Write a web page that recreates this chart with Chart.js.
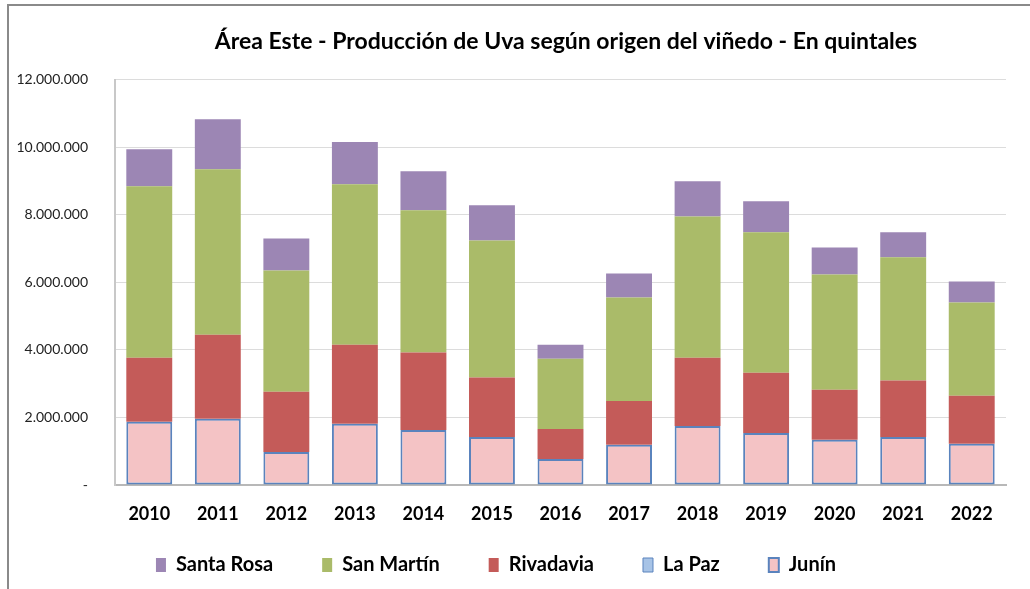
<!DOCTYPE html>
<html>
<head>
<meta charset="utf-8">
<script src="https://cdn.jsdelivr.net/npm/chart.js@4"></script>
<style>
  html, body { margin: 0; padding: 0; background: #fff; overflow: hidden; }
  #wrap { position: relative; width: 1030px; height: 589px; }
  #frame { position: absolute; left: 7px; top: 4px; width: 1040px; height: 600px;
           border-left: 2px solid #8a8a8a; border-top: 2px solid #8a8a8a; }
  canvas { position: absolute; left: 0; top: 0; }
</style>
</head>
<body>
<div id="wrap">
  <div id="frame"></div>
  <canvas id="uvaChart" width="1030" height="589"></canvas>
</div>
<script>
// datos (quintales)
const years = ['2010','2011','2012','2013','2014','2015','2016','2017','2018','2019','2020','2021','2022'];
const junin      = [1870000, 1960000,  980000, 1810000, 1630000, 1420000,  770000, 1190000, 1750000, 1540000, 1340000, 1420000, 1220000];
const laPaz      = [0, 0, 0, 0, 0, 0, 0, 0, 0, 0, 0, 0, 0];
const rivadavia  = [1900000, 2490000, 1780000, 2340000, 2290000, 1760000,  890000, 1300000, 2020000, 1780000, 1480000, 1670000, 1420000];
const sanMartin  = [5070000, 4900000, 3590000, 4750000, 4210000, 4060000, 2080000, 3060000, 4180000, 4160000, 3410000, 3650000, 2760000];
const santaRosa  = [1100000, 1480000,  950000, 1250000, 1160000, 1040000,  410000,  710000, 1040000,  920000,  800000,  740000,  620000];
const yTicks = [0, 2000000, 4000000, 6000000, 8000000, 10000000, 12000000];

const FONT = 'Lato, "Liberation Sans", sans-serif';

// corre título y leyenda como en el original (título centrado sobre el área del gráfico)
// y deja espacio para que no se recorten las etiquetas del eje x
const shiftBoxes = {
    id: 'shiftBoxes',
    afterLayout(chart) {
        const t = chart.titleBlock;
        if (t) { t.left += 63; t.right += 63; }
        const l = chart.legend;
        if (l) { l.left -= 7; l.right -= 7; }
        chart.scales.x.bottom += 45;
    }
};

const ctx = document.getElementById('uvaChart');
new Chart(ctx, {
    type: 'bar',
    data: {
        labels: years,
        datasets: [
            { label: 'Junín', data: junin, backgroundColor: '#f4c3c5', borderColor: '#5a83bd', borderWidth: 2, borderSkipped: false },
            { label: 'La Paz', data: laPaz, backgroundColor: '#a7c3e6', borderColor: '#5a83bd', borderWidth: 1 },
            { label: 'Rivadavia', data: rivadavia, backgroundColor: '#c45b59' },
            { label: 'San Martín', data: sanMartin, backgroundColor: '#aabb69' },
            { label: 'Santa Rosa', data: santaRosa, backgroundColor: '#9c86b4' }
        ]
    },
    options: {
        responsive: false,
        animation: false,
        barPercentage: 0.67,
        categoryPercentage: 1,
        layout: { padding: { left: 0, right: 24, top: 8, bottom: 4 } },
        scales: {
            x: {
                stacked: true,
                grid: { display: false, drawTicks: false },
                border: { color: '#b8b8b8', width: 2 },
                ticks: { color: '#000', padding: 18, font: { family: FONT, size: 18, weight: 'bold' } },
                afterFit: s => { s.height = 21; }
            },
            y: {
                stacked: true,
                min: 0, max: 12000000,
                afterBuildTicks: s => { s.ticks = yTicks.map(v => ({ value: v })); },
                grid: { color: '#dcdcdc', lineWidth: 1, drawTicks: false },
                border: { color: '#c8c8c8', width: 2 },
                ticks: {
                    color: '#222', padding: 27,
                    font: { family: FONT, size: 14 },
                    callback: v => v === 0 ? '-' : v.toLocaleString('es-AR')
                },
                afterFit: s => { s.width = 115; }
            }
        },
        plugins: {
            title: {
                display: true,
                text: 'Área Este - Producción de Uva según origen del viñedo - En quintales',
                color: '#000',
                font: { family: FONT, size: 23, weight: 'bold' },
                padding: { top: 20, bottom: 24 }
            },
            legend: {
                position: 'bottom',
                reverse: true,
                labels: {
                    color: '#000',
                    boxWidth: 10, boxHeight: 14,
                    padding: 49,
                    font: { family: FONT, size: 20, weight: 'bold' }
                }
            },
            tooltip: { enabled: false }
        }
    },
    plugins: [shiftBoxes]
});
</script>
</body>
</html>
